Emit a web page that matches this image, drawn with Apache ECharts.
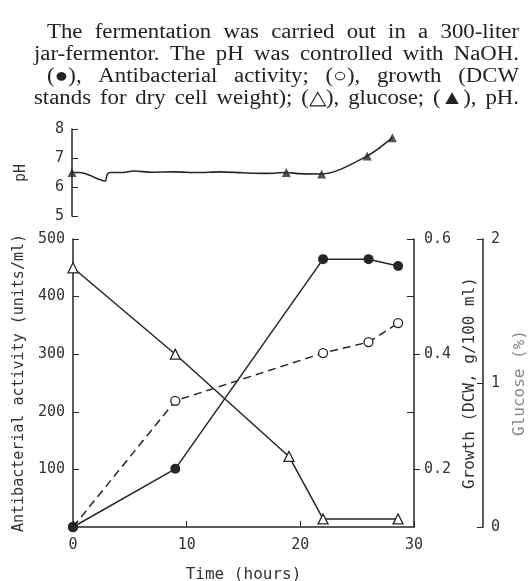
<!DOCTYPE html>
<html>
<head>
<meta charset="utf-8">
<script src="https://cdn.jsdelivr.net/npm/echarts@6/dist/echarts.min.js"></script>
<style>
  html, body { margin: 0; padding: 0; background: #fff; }
  #main { width: 528px; height: 581px; }
</style>
</head>
<body>
<div id="main"></div>
<script>
// 发酵数据
var actTime = [0, 9, 22, 26, 28.6];
var actValue = [0, 101, 465, 465, 453];
var growthTime = [0, 9, 22, 26, 28.6];
var growthValue = [0.1, 0.319, 0.402, 0.421, 0.454];
var glucoseTime = [0, 9, 19, 22, 28.6];
var glucoseValue = [1.8, 1.2, 0.49, 0.056, 0.056];
// pH 连续记录 + 标记点
var pHTraceTime = [0, 0.6, 1.2, 1.8, 2.4, 2.9, 3.1, 3.4, 4.5, 5.4, 7, 9, 11, 13, 15, 17, 18.8, 20, 21.9, 25.9, 28.1];
var pHTraceValue = [6.5, 6.5, 6.46, 6.36, 6.26, 6.2, 6.44, 6.5, 6.5, 6.55, 6.51, 6.52, 6.5, 6.52, 6.49, 6.47, 6.5, 6.46, 6.45, 7.07, 7.7];
var pHTime = [0, 18.8, 21.9, 25.9, 28.1];
var pHValue = [6.5, 6.5, 6.45, 7.07, 7.7];

var caption = [
  'The fermentation was carried out in a 300-liter',
  'jar-fermentor.  The pH was controlled with NaOH.',
  '(\u25CF), Antibacterial activity; (\u25CB), growth (DCW',
  'stands for dry cell weight); (\u25B3), glucose; (\u25B2), pH.'
];
var captionLeft = [47, 34, 47, 34];
var captionRight = 519;

function pairs(xs, ys) {
  return xs.map(function (x, i) { return [x, ys[i]]; });
}

var ink = '#262626';
var mono = '"DejaVu Sans Mono", monospace';

// 图注: 字略拉宽, 其余靠词距两端对齐
var measure = document.createElement('canvas').getContext('2d');
measure.font = '20px "Liberation Serif"';
var stretch = 1.14;
var captionGraphics = [];
caption.forEach(function (line, i) {
  var words = line.split(/ +/);
  var widths = words.map(function (w) { return measure.measureText(w).width * stretch; });
  var total = widths.reduce(function (a, b) { return a + b; }, 0);
  var gap = (captionRight - captionLeft[i] - total) / (words.length - 1);
  var x = captionLeft[i];
  words.forEach(function (w, j) {
    captionGraphics.push({
      type: 'text', x: x, y: 23 + i * 22, scaleX: stretch,
      style: { text: w, fontFamily: '"Liberation Serif", serif', fontSize: 20, fill: '#222' }
    });
    x += widths[j] + gap;
  });
});

var chart = echarts.init(document.getElementById('main'), null, { renderer: 'canvas' });

var option = {
  animation: false,
  backgroundColor: '#fff',
  graphic: captionGraphics.concat([
    { type: 'text', left: 14, top: 164, rotation: Math.PI / 2, style: { text: 'pH', fontFamily: mono, fontSize: 15, fill: '#333' } }
  ]),
  grid: [
    { left: 72, top: 129, width: 342, height: 87, outerBoundsMode: 'none' },
    { left: 73, top: 239, width: 341, height: 288, outerBoundsMode: 'none' }
  ],
  xAxis: [
    {
      gridIndex: 0, type: 'value', min: 0, max: 30, show: false
    },
    {
      gridIndex: 1, type: 'value', min: 0, max: 30, interval: 10,
      name: 'Time (hours)', nameLocation: 'middle', nameGap: 40,
      nameTextStyle: { fontFamily: mono, fontSize: 16, color: '#333' },
      axisLine: { lineStyle: { color: ink, width: 1.5 } },
      axisTick: { inside: true, length: 6, lineStyle: { color: ink } },
      axisLabel: { fontFamily: mono, fontSize: 15, color: '#333', margin: 11 },
      splitLine: { show: false }
    }
  ],
  yAxis: [
    {
      gridIndex: 0, type: 'value', min: 5, max: 8, interval: 1,
      axisLine: { show: true, lineStyle: { color: ink, width: 1.5 } },
      axisTick: { inside: true, length: 6, lineStyle: { color: ink } },
      axisLabel: { fontFamily: mono, fontSize: 15, color: '#333', margin: 8 },
      splitLine: { show: false }
    },
    {
      gridIndex: 1, type: 'value', min: 0, max: 500, interval: 100,
      name: 'Antibacterial activity (units/ml)', nameLocation: 'middle', nameGap: 39,
      nameTextStyle: { fontFamily: mono, fontSize: 15, color: '#333' },
      axisLine: { show: true, lineStyle: { color: ink, width: 1.5 } },
      axisTick: { inside: true, length: 6, lineStyle: { color: ink } },
      axisLabel: { fontFamily: mono, fontSize: 15, color: '#333', margin: 8, showMinLabel: false },
      splitLine: { show: false }
    },
    {
      // 生长量 轴
      gridIndex: 1, type: 'value', position: 'right', min: 0.1, max: 0.6, interval: 0.1,
      name: 'Growth (DCW, g/100 ml)', nameLocation: 'middle', nameGap: 37,
      nameTextStyle: { fontFamily: mono, fontSize: 16, color: '#333' },
      axisLine: { show: true, lineStyle: { color: ink, width: 1.5 } },
      axisTick: { inside: true, length: 7, lineStyle: { color: ink }, customValues: [0.3, 0.5, 0.6] },
      axisLabel: {
        fontFamily: mono, fontSize: 15, color: '#333', margin: 10,
        customValues: [0.2, 0.4, 0.6],
        formatter: function (v) { return v.toFixed(1); }
      },
      splitLine: { show: false }
    },
    {
      gridIndex: 1, type: 'value', position: 'right', min: 0.1, max: 0.6, interval: 0.1,
      axisLine: { show: false },
      axisTick: { inside: false, length: 6, lineStyle: { color: ink }, customValues: [0.2, 0.4] },
      axisLabel: { show: false },
      splitLine: { show: false }
    },
    {
      gridIndex: 1, type: 'value', position: 'right', offset: 69, min: 0, max: 2, interval: 1,
      name: 'Glucose (%)', nameLocation: 'middle', nameGap: 29,
      nameTextStyle: { fontFamily: mono, fontSize: 16, color: '#888' },
      axisLine: { show: true, lineStyle: { color: ink, width: 1.5 } },
      axisTick: { inside: true, length: 6, lineStyle: { color: ink } },
      axisLabel: { fontFamily: mono, fontSize: 15, color: '#333', margin: 8 },
      splitLine: { show: false }
    }
  ],
  series: [
    {
      name: 'pH trace', type: 'line', xAxisIndex: 0, yAxisIndex: 0,
      data: pairs(pHTraceTime, pHTraceValue), showSymbol: false, smooth: 0.3,
      lineStyle: { color: ink, width: 1.6 }
    },
    {
      name: 'pH', type: 'scatter', xAxisIndex: 0, yAxisIndex: 0,
      data: pairs(pHTime, pHValue), symbol: 'triangle', symbolSize: 9,
      itemStyle: { color: ink }
    },
    {
      name: 'Glucose', type: 'line', xAxisIndex: 1, yAxisIndex: 4,
      data: pairs(glucoseTime, glucoseValue), symbol: 'triangle', symbolSize: 10,
      lineStyle: { color: ink, width: 1.5 },
      itemStyle: { color: '#fff', borderColor: ink, borderWidth: 1.3 }
    },
    {
      name: 'Growth', type: 'line', xAxisIndex: 1, yAxisIndex: 2,
      data: pairs(growthTime, growthValue), symbol: 'circle', symbolSize: 9,
      lineStyle: { color: ink, width: 1.5, type: [8, 5] },
      itemStyle: { color: '#fff', borderColor: ink, borderWidth: 1.3 }
    },
    {
      name: 'Antibacterial activity', type: 'line', xAxisIndex: 1, yAxisIndex: 1,
      data: pairs(actTime, actValue), symbol: 'circle', symbolSize: 10,
      lineStyle: { color: ink, width: 1.5 },
      itemStyle: { color: ink }
    }
  ]
};

chart.setOption(option);
</script>
</body>
</html>
